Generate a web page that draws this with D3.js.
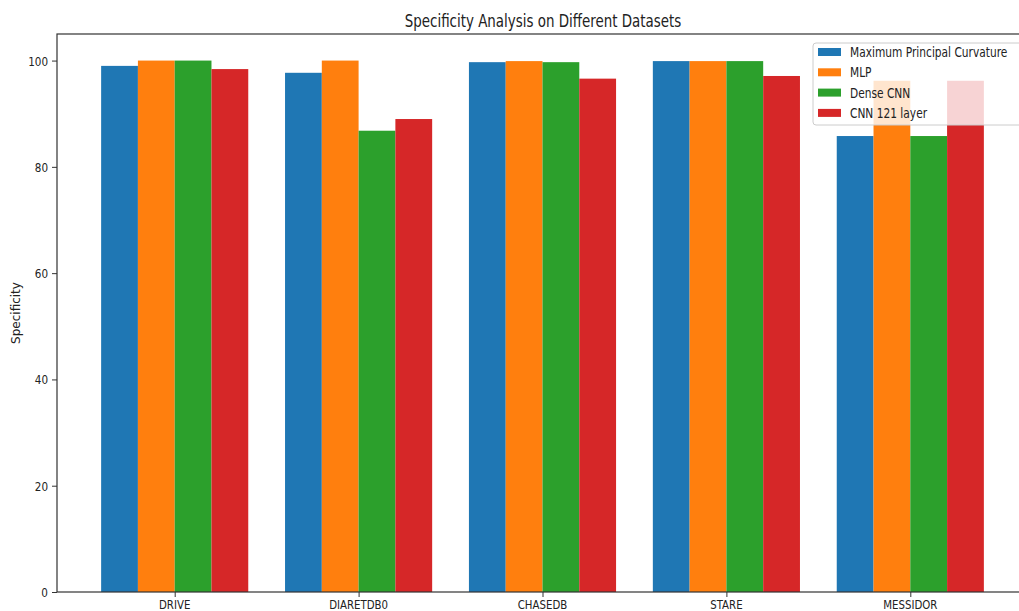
<!DOCTYPE html>
<html>
<head>
<meta charset="utf-8">
<script src="https://cdn.jsdelivr.net/npm/d3@7"></script>
<style>
  html, body { margin: 0; padding: 0; background: #fff; }
  svg { display: block; }
  text { font-family: "DejaVu Sans", sans-serif; fill: #222; }
</style>
</head>
<body>
<svg id="chart" width="1019" height="611"></svg>
<script>
// Datasets on the x axis
const datasets = ["DRIVE", "DIARETDB0", "CHASEDB", "STARE", "MESSIDOR"];
// Methods compared (one bar each per dataset)
const methods = ["Maximum Principal Curvature", "MLP", "Dense CNN", "CNN 121 layer"];
const colors = ["#1f77b4", "#ff7f0e", "#2ca02c", "#d62728"];
// Specificity per method, in dataset order
const curvatureValues = [99.0, 97.7, 99.7, 99.9, 85.8];
const mlpValues       = [100.0, 100.0, 99.9, 99.9, 96.2];
const denseCnnValues  = [100.0, 86.8, 99.7, 99.9, 85.8];
const cnn121Values    = [98.4, 89.0, 96.6, 97.1, 96.2];
const yTicks = [0, 20, 40, 60, 80, 100];

const series = [curvatureValues, mlpValues, denseCnnValues, cnn121Values];

const svg = d3.select("#chart");
const plot = { left: 57, right: 1028, top: 34, bottom: 592 };

// Numeric x positions like a grouped bar plot: group i at i, bars of width 0.2
const barW = 0.2;
const x = d3.scaleLinear().domain([-0.64, 4.64]).range([plot.left, plot.right]);
const y = d3.scaleLinear().domain([0, 105]).range([plot.bottom, plot.top]);

// helper: horizontally narrowed text
function label(g, str, px, py, size, anchor, sx) {
  return g.append("text")
    .attr("font-size", size)
    .attr("text-anchor", anchor)
    .attr("transform", `translate(${px},${py}) scale(${sx},1)`)
    .text(str);
}

// Bars
const bars = svg.append("g");
series.forEach((vals, m) => {
  bars.selectAll(null)
    .data(vals)
    .join("rect")
    .attr("x", (d, i) => x(i + (m - 1.5) * barW - barW / 2))
    .attr("width", x(barW) - x(0))
    .attr("y", d => y(d))
    .attr("height", d => y(0) - y(d))
    .attr("fill", colors[m]);
});

// Axes (tick marks only; labels drawn separately)
const xAxis = d3.axisBottom(x).tickValues(d3.range(datasets.length))
  .tickFormat(i => datasets[i]).tickSize(5).tickSizeOuter(0);
const yAxis = d3.axisLeft(y).tickValues(yTicks).tickSize(5).tickSizeOuter(0);

const gx = svg.append("g").attr("transform", `translate(0,${plot.bottom})`).call(xAxis);
const gy = svg.append("g").attr("transform", `translate(${plot.left},0)`).call(yAxis);
[gx, gy].forEach(g => {
  g.select(".domain").remove();
  g.selectAll(".tick line").attr("stroke", "#333");
  g.selectAll(".tick text").remove();
});

// Tick labels
const tl = svg.append("g");
datasets.forEach((d, i) => label(tl, d, x(i), plot.bottom + 17, 12, "middle", 0.85));
yTicks.forEach(v => label(tl, v, plot.left - 9, y(v) + 5, 13, "end", 0.8));

// Frame (spines)
svg.append("rect")
  .attr("x", plot.left).attr("y", plot.top)
  .attr("width", plot.right - plot.left).attr("height", plot.bottom - plot.top)
  .attr("fill", "none").attr("stroke", "#333").attr("stroke-width", 1.2);

// Title and y label
label(svg, "Specificity Analysis on Different Datasets", 543, 27, 17, "middle", 0.79);
svg.append("text")
  .attr("font-size", 12)
  .attr("text-anchor", "middle")
  .attr("transform", `translate(20,${(plot.top + plot.bottom) / 2}) rotate(-90)`)
  .text("Specificity");

// Legend
const lg = svg.append("g").attr("transform", "translate(813,43)");
lg.append("rect")
  .attr("width", 230).attr("height", 82).attr("rx", 3)
  .attr("fill", "#fff").attr("fill-opacity", 0.8)
  .attr("stroke", "#ccc").attr("stroke-width", 1);
methods.forEach((name, m) => {
  const row = lg.append("g").attr("transform", `translate(5,${5 + m * 20.3})`);
  row.append("rect").attr("width", 23).attr("height", 8).attr("fill", colors[m]);
  label(row, name, 32, 9, 14, "start", 0.76);
});
</script>
</body>
</html>
